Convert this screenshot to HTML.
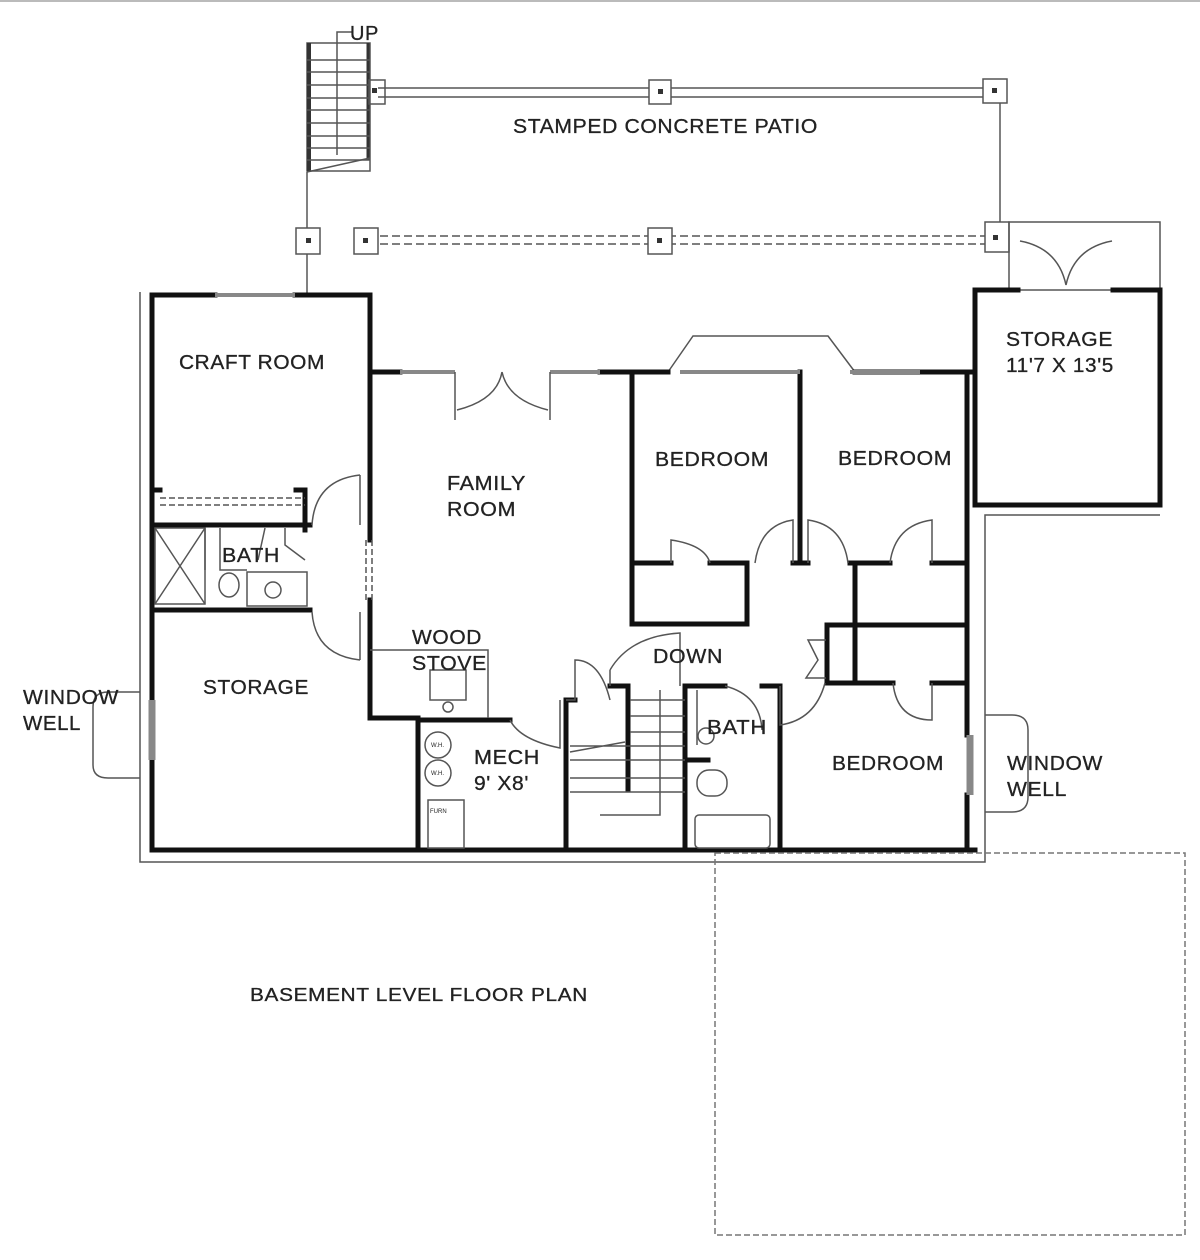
<!DOCTYPE html>
<html><head><meta charset="utf-8"><style>
html,body{margin:0;padding:0;background:#fff;}
svg{display:block;}
text{font-family:"Liberation Sans",Arial,sans-serif;font-size:20px;fill:#222;letter-spacing:0.6px;stroke:#222;stroke-width:0.3px;}
</style></head><body>
<svg width="1200" height="1260" viewBox="0 0 1200 1260" xmlns="http://www.w3.org/2000/svg">
<rect width="1200" height="1260" fill="#fff"/>
<line x1="0" y1="1" x2="1200" y2="1" stroke="#bbb" stroke-width="2"/>

<g stroke="#555" stroke-width="1.5" fill="none">
<rect x="307" y="43" width="63" height="128" fill="#fff"/>
<line x1="309" y1="43" x2="309" y2="172" stroke="#333" stroke-width="4"/>
<line x1="368" y1="43" x2="368" y2="160" stroke="#333" stroke-width="3"/>
<path d="M307 60 H370 M307 72 H370 M307 85 H370 M307 98 H370 M307 110 H370 M307 123 H370 M307 136 H370 M307 148 H370 M307 160 H370"/>
<path d="M307 172 L370 158"/>
<path d="M337 155 V32 H352"/>
<line x1="307" y1="172" x2="307" y2="228"/>
<line x1="307" y1="252" x2="307" y2="295"/>
<line x1="378" y1="88" x2="995" y2="88"/>
<line x1="378" y1="97" x2="995" y2="97"/>
<rect x="369" y="80" width="16" height="24"/>
<rect x="649" y="80" width="22" height="24" fill="#fff"/>
<rect x="983" y="79" width="24" height="24" fill="#fff"/>
<line x1="1000" y1="103" x2="1000" y2="228"/>
<line x1="380" y1="236" x2="995" y2="236" stroke-dasharray="8 4"/>
<line x1="380" y1="244" x2="995" y2="244" stroke-dasharray="8 4"/>
<rect x="296" y="228" width="24" height="26" fill="#fff"/>
<rect x="354" y="228" width="24" height="26" fill="#fff"/>
<rect x="648" y="228" width="24" height="26" fill="#fff"/>
<rect x="985" y="222" width="24" height="30" fill="#fff"/>
<rect x="1009" y="222" width="151" height="68"/>
<path d="M1020 241 Q1058 248 1066 285 M1112 241 Q1074 248 1066 285"/>
<path d="M140 292 V862 H985 V515 H1160"/>
<path d="M140 692 H108 Q93 692 93 707 V765 Q93 778 108 778 H140"/>
<path d="M985 715 H1012 Q1028 715 1028 730 V797 Q1028 812 1012 812 H985"/>
<path d="M668 372 L693 336 H828 L855 372"/>
</g>
<g fill="#333">
<rect x="658" y="89" width="5" height="5"/><rect x="992" y="88" width="5" height="5"/><rect x="372" y="88" width="5" height="5"/>
<rect x="306" y="238" width="5" height="5"/><rect x="363" y="238" width="5" height="5"/><rect x="657" y="238" width="5" height="5"/><rect x="993" y="235" width="5" height="5"/>
</g>

<g stroke="#111" stroke-width="5" fill="none" stroke-linecap="square">
<path d="M152 295 H215 M295 295 H370 V540 M370 600 V718 H418 V850"/>
<path d="M152 295 V700 M152 760 V850 H975"/>
<path d="M370 372 H400 M600 372 H668 M855 372 H975 M632 372 V624 H747 V563 M632 563 H671 M710 563 H747 M793 563 H808 M800 372 V563"/>
<path d="M850 563 H890 M932 563 H967"/>
<path d="M975 290 H1018 M1113 290 H1160 V505 H975 V290"/>
<path d="M967 372 V735 M967 795 V850"/>
<path d="M855 563 V683 M827 625 H967 M827 625 V683 H893 M932 683 H967"/>
<path d="M152 490 H160 M296 490 H305 V530 M152 525 H310 M152 610 H310"/>
<path d="M418 720 H510"/>
<path d="M566 700 V850 M566 700 H575 M610 686 H628 V790"/>
<path d="M685 686 V850 M685 686 H725 M762 686 H780 V850"/>
<path d="M685 760 H708"/>
</g>
<g stroke="#888" stroke-width="4">
<line x1="215" y1="295" x2="295" y2="295"/>
<line x1="400" y1="372" x2="455" y2="372"/>
<line x1="550" y1="372" x2="600" y2="372"/>
<line x1="680" y1="372" x2="800" y2="372"/>
<line x1="850" y1="372" x2="920" y2="372"/>
<line x1="152" y1="700" x2="152" y2="760" stroke-width="7"/>
<line x1="970" y1="735" x2="970" y2="795" stroke-width="7"/>
</g>
<g stroke="#555" stroke-width="1.5" fill="none">
<path d="M455 372 V420 M550 372 V420 M457 410 Q497 400 502 372 M548 410 Q508 400 502 372"/>
<path d="M160 498 H305 M160 505 H305" stroke-dasharray="6 3"/>
<path d="M360 475 V525 M360 475 Q315 480 312 525 M360 612 V660 M360 660 Q315 655 312 612"/>
<path d="M366 540 V600 M372 540 V600" stroke-dasharray="6 3"/>
<rect x="155" y="528" width="50" height="76"/><path d="M155 528 L205 604 M205 528 L155 604"/>
<rect x="247" y="572" width="60" height="34"/><circle cx="273" cy="590" r="8"/>
<ellipse cx="229" cy="585" rx="10" ry="12"/>
<path d="M205 528 V570 M220 528 V570 H247 M265 528 L258 560 M285 528 V545 L305 560"/>
<path d="M370 650 H488 V718"/>
<rect x="430" y="670" width="36" height="30"/><circle cx="448" cy="707" r="5"/>
<circle cx="438" cy="745" r="13"/><circle cx="438" cy="773" r="13"/>
<rect x="428" y="800" width="36" height="48"/>
<path d="M510 720 Q520 740 560 748 V700 M566 700 H575 V660 Q600 660 610 700"/>
<path d="M610 686 V670 M610 670 Q630 636 680 633 V686"/>
<path d="M660 690 V815 H600"/>
<path d="M630 700 H685 M630 716 H685 M630 732 H685 M570 746 H685 M570 760 H685 M570 778 H685 M570 792 H685 M570 752 L625 742"/>
<rect x="697" y="770" width="30" height="26" rx="12"/>
<rect x="695" y="815" width="75" height="33" rx="4"/>
<path d="M697 690 V745 M725 686 Q760 695 762 730"/>
<circle cx="706" cy="736" r="8"/>
<path d="M671 563 V540 Q705 545 710 563 M793 563 V520 Q760 525 755 563 M808 563 V520 Q843 525 848 563 M932 563 V520 Q895 525 890 563"/>
<path d="M893 683 Q897 720 932 720 V683 M780 686 V725 Q815 720 825 683"/>
<path d="M826 640 H808 L818 660 L806 678 H826"/>
<rect x="715" y="853" width="470" height="382" stroke-dasharray="6 3" stroke="#777"/>
</g>
<g>
<text x="431" y="747" style="font-size:6px;letter-spacing:0;stroke:none">W.H.</text><text x="431" y="775" style="font-size:6px;letter-spacing:0;stroke:none">W.H.</text>
<text x="430" y="813" style="font-size:6px;letter-spacing:0;stroke:none">FURN</text>
</g>
<text x="350" y="40">UP</text>
<text x="513" y="133" textLength="305" lengthAdjust="spacingAndGlyphs">STAMPED CONCRETE PATIO</text>
<text x="179" y="369" textLength="146" lengthAdjust="spacingAndGlyphs">CRAFT ROOM</text>
<text x="447" y="490" textLength="79" lengthAdjust="spacingAndGlyphs">FAMILY</text>
<text x="447" y="516" textLength="69" lengthAdjust="spacingAndGlyphs">ROOM</text>
<text x="655" y="466" textLength="114" lengthAdjust="spacingAndGlyphs">BEDROOM</text>
<text x="838" y="465" textLength="114" lengthAdjust="spacingAndGlyphs">BEDROOM</text>
<text x="1006" y="346" textLength="107" lengthAdjust="spacingAndGlyphs">STORAGE</text>
<text x="1006" y="372" textLength="108" lengthAdjust="spacingAndGlyphs">11'7 X 13'5</text>
<text x="222" y="562" textLength="58" lengthAdjust="spacingAndGlyphs">BATH</text>
<text x="203" y="694" textLength="106" lengthAdjust="spacingAndGlyphs">STORAGE</text>
<text x="23" y="704" textLength="96" lengthAdjust="spacingAndGlyphs">WINDOW</text>
<text x="23" y="730" textLength="58" lengthAdjust="spacingAndGlyphs">WELL</text>
<text x="412" y="644" textLength="70" lengthAdjust="spacingAndGlyphs">WOOD</text>
<text x="412" y="670" textLength="75" lengthAdjust="spacingAndGlyphs">STOVE</text>
<text x="474" y="764" textLength="66" lengthAdjust="spacingAndGlyphs">MECH</text>
<text x="474" y="790" textLength="55" lengthAdjust="spacingAndGlyphs">9' X8'</text>
<text x="653" y="663" textLength="70" lengthAdjust="spacingAndGlyphs">DOWN</text>
<text x="707" y="734" textLength="60" lengthAdjust="spacingAndGlyphs">BATH</text>
<text x="832" y="770" textLength="112" lengthAdjust="spacingAndGlyphs">BEDROOM</text>
<text x="1007" y="770" textLength="96" lengthAdjust="spacingAndGlyphs">WINDOW</text>
<text x="1007" y="796" textLength="60" lengthAdjust="spacingAndGlyphs">WELL</text>
<text x="250" y="1001" textLength="338" lengthAdjust="spacingAndGlyphs" style="font-size:18px">BASEMENT LEVEL FLOOR PLAN</text>
</svg>
</body></html>
